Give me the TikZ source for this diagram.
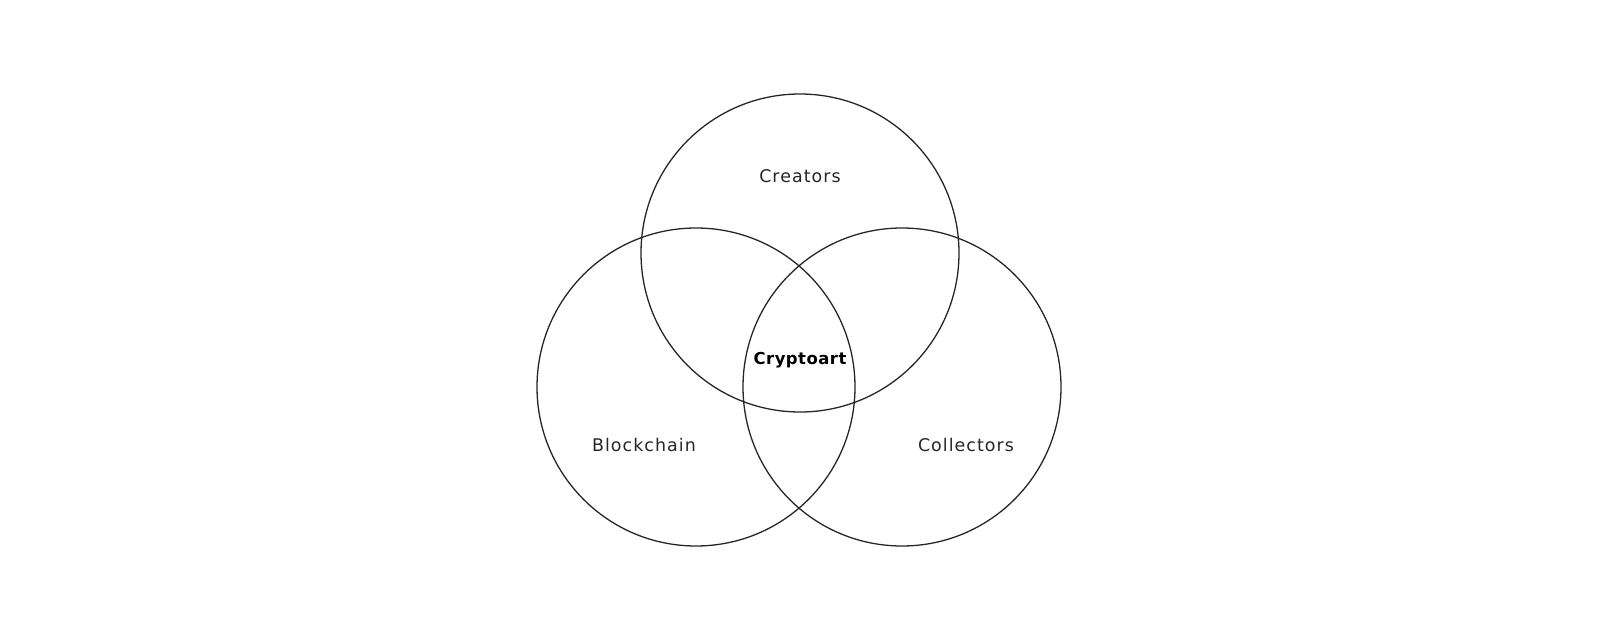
\documentclass[tikz,border=0pt]{standalone}
\usepackage{fontspec}
\setmainfont{DejaVu Sans}
\begin{document}
\begin{tikzpicture}[x=1bp,y=-1bp,
  ring/.style={draw=black!85,line width=1.3pt},
  lbl/.style={font=\fontsize{17.5}{20}\selectfont\addfontfeature{LetterSpace=6},text=black!85,inner sep=0pt},
  core/.style={font=\bfseries\fontsize{16.5}{19}\selectfont\addfontfeature{LetterSpace=3},inner sep=0pt}]
\useasboundingbox (0,0) rectangle (1600,640);
\fill[white] (0,0) rectangle (1600,640);
\draw[ring] (800,253) circle (159);
\draw[ring] (696,387) circle (159);
\draw[ring] (902,387) circle (159);
\node[lbl] (creators) at (800,176) {Creators};
\node[lbl] (blockchain) at (644,445) {Blockchain};
\node[lbl] (collectors) at (966,445) {Collectors};
\node[core] (crypto) at (800,360) {Cryptoart};
\end{tikzpicture}
\end{document}
